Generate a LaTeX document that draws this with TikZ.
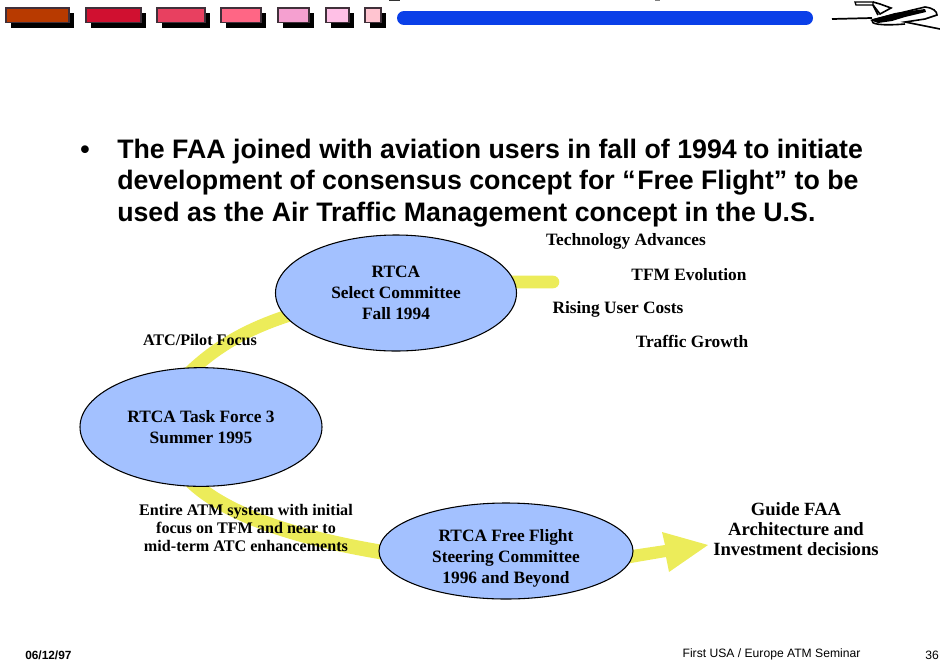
\documentclass[tikz,border=0pt]{standalone}
\usepackage{fontspec}
\setmainfont{Liberation Serif}
\setsansfont{Liberation Sans}
\usetikzlibrary{shapes.geometric,backgrounds}
\definecolor{ellfill}{HTML}{A3C1FF}
\definecolor{band}{HTML}{ECEC5A}
\definecolor{barblue}{HTML}{0A3FE8}
\definecolor{tabA}{HTML}{B83A00}
\definecolor{tabB}{HTML}{D01030}
\definecolor{tabC}{HTML}{E84060}
\definecolor{tabD}{HTML}{FF6685}
\definecolor{tabE}{HTML}{F5A0D0}
\definecolor{tabF}{HTML}{FFC0E6}
\definecolor{tabG}{HTML}{FFC4D0}
\definecolor{tabedge}{HTML}{40303A}
\tikzset{
  oval/.style={ellipse,draw=black,line width=0.8pt,fill=ellfill,inner sep=0pt,align=center,font=\fontsize{13}{15.75}\selectfont\bfseries},
  ovaltext/.style={inner sep=0pt,align=center,font=\fontsize{13}{15.75}\selectfont\bfseries},
  lab/.style={inner sep=0pt,align=center,font=\fontsize{14}{15.2}\selectfont\bfseries},
  midlab/.style={inner sep=0pt,align=center,font=\fontsize{13}{13}\selectfont\bfseries},
  smalllab/.style={inner sep=0pt,align=center,font=\fontsize{12.1}{13.4}\selectfont\bfseries},
  flow/.style={draw=band,line width=9.5pt},
  bigtext/.style={inner sep=0pt,anchor=base west,font=\sffamily\bfseries\fontsize{20.05}{22}\selectfont},
  foot/.style={inner sep=0pt,font=\sffamily\fontsize{9.1}{10}\selectfont},
  tabbox/.style={draw=tabedge,line width=0.8pt},
}
\newcommand{\tabrect}[3]{%
  \fill[black] (#1+5,13) rectangle (#2+5,27.5);
  \draw[tabbox,fill=#3] (#1,8) rectangle (#2,22.5);
}
\begin{document}
\begin{tikzpicture}[x=0.75pt,y=-0.75pt]
\useasboundingbox (0,0) rectangle (940,662);
\tabrect{6}{69}{tabA}
\tabrect{86}{141}{tabB}
\tabrect{157}{205}{tabC}
\tabrect{221}{261}{tabD}
\tabrect{278}{309}{tabE}
\tabrect{326}{349}{tabF}
\tabrect{365}{381}{tabG}
\draw[barblue,line width=10.5pt,line cap=round] (404,18) -- (806,18);
\fill[black!80] (389,0) rectangle (400,1);
\fill[black!50] (655,0) rectangle (660,1);
% aeroplane
\draw[line width=1.3pt] (832,19) -- (872,18);
\draw[line width=1.2pt] (872,20) -- (900,13) -- (925,7) .. controls (933,8) and (937,11) .. (937,15) -- (925,19) -- (905,22) -- (940,29);
\draw[line width=1.2pt] (872,20) .. controls (870,24) and (880,26) .. (905,24);
\fill[black] (870,20) -- (895,13) -- (925,9) -- (926,12) -- (905,17) -- (892,21) -- (878,23) -- cycle;
\draw[line width=1pt,fill=white] (855,2) -- (873,2) -- (873,5) -- (856,5) -- cycle;
\draw[line width=1.2pt] (873,2) -- (880,4) -- (891,8) -- (880,14) -- (873,5);
\draw[line width=1.2pt] (873,5) -- (878,15);
% bullet text
\node[bigtext] (bul) at (80,158) {•};
\node[bigtext] (t1) at (117,158) {The FAA joined with aviation users in fall of 1994 to initiate};
\node[bigtext] (t2) at (117,189.5) {development of consensus concept for “\kern1.2pt Free Flight” to be};
\node[bigtext] (t3) at (117,221) {used as the Air Traffic Management concept in the U.S.};
% ellipses
\node[oval,minimum width=180.75pt,minimum height=87pt] (n1) at (396,293) {RTCA\\Select Committee\\Fall 1994};
\node[oval,minimum width=181.5pt,minimum height=89pt] (n2) at (201,427) {RTCA Task Force 3\\Summer 1995};
\node[oval,minimum width=190.5pt,minimum height=72pt] (n3) at (506,551) {};
\node[ovaltext] (n3t) at (506,558.5) {RTCA Free Flight\\Steering Committee\\1996 and Beyond};
\node[lab] (g) at (796,529) {Guide FAA\\Architecture and\\Investment decisions};
\coordinate (e1) at (553,282);
\coordinate (b1) at (300,312);
\coordinate (b2) at (180,382);
\coordinate (b3) at (190,480);
\coordinate (b4) at (400,555);
\coordinate (h0) at (625,551);
\coordinate (h5) at (625,564);
% bands
\begin{scope}[on background layer]
\draw[flow,line cap=round] (n1.center) -- (510,282) -- (e1);
\draw[flow] (b1) .. controls (245,328) and (210,350) .. (b2);
\draw[flow,line width=11pt] (b3) .. controls (225,515) and (300,540) .. (b4);
\fill[band] (h0) -- (665,545) -- (662,532) -- (708,545) -- (669,572) -- (666,557) -- (h5) -- cycle;
\end{scope}
% labels
\node[midlab] (a) at (626,241) {Technology Advances};
\node[midlab] (b) at (689,275) {TFM Evolution};
\node[midlab] (c) at (618,309) {Rising User Costs};
\node[midlab] (d) at (692,341) {Traffic Growth};
\node[smalllab] (atc) at (200,340) {ATC/Pilot Focus};
\node[smalllab] (ent) at (246,528) {Entire ATM system with initial\\focus on TFM and near to\\mid-term ATC enhancements};
% footer
\node[foot,anchor=west,font=\sffamily\bfseries\fontsize{8.9}{10}\selectfont] (f1) at (25,655) {06/12/97};
\node[foot] (f2) at (771.5,654) {First USA / Europe ATM Seminar};
\node[foot] (f3) at (932,655) {36};
\end{tikzpicture}
\end{document}
